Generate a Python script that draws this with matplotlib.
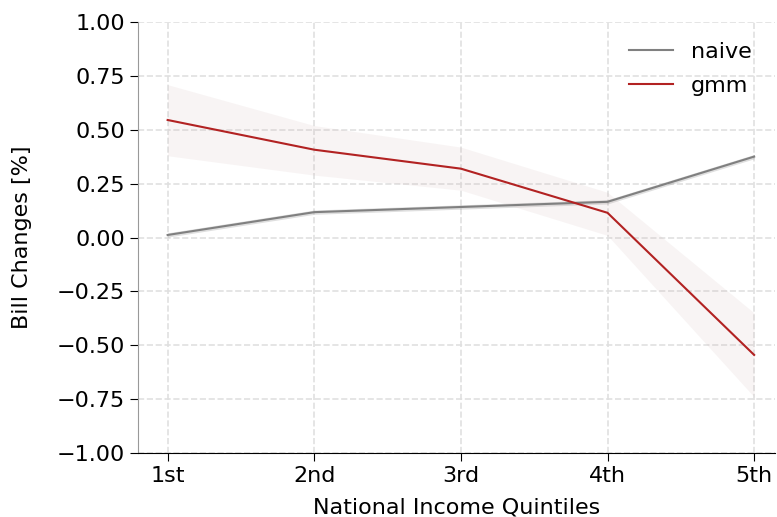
import numpy as np
import matplotlib
matplotlib.use("Agg")
import matplotlib.pyplot as plt

quintiles = ["1st", "2nd", "3rd", "4th", "5th"]

naive_mean = [0.012, 0.118, 0.142, 0.166, 0.376]
naive_lo = [0.002, 0.108, 0.132, 0.156, 0.366]
naive_hi = [0.022, 0.128, 0.152, 0.176, 0.386]

gmm_mean = [0.546, 0.408, 0.320, 0.115, -0.545]
gmm_lo = [0.38, 0.29, 0.22, 0.01, -0.74]
gmm_hi = [0.71, 0.52, 0.42, 0.21, -0.35]

plt.rcParams['font.size'] = 16

fig, ax = plt.subplots(figsize=(7.77, 5.17), dpi=100)
x = np.arange(len(quintiles))

ax.fill_between(x, naive_lo, naive_hi, color="gray", alpha=0.25, lw=0)
ax.plot(x, naive_mean, color="gray", lw=1.5, label="naive")
ax.fill_between(x, gmm_lo, gmm_hi, color="#c8a8a8", alpha=0.12, lw=0)
ax.plot(x, gmm_mean, color="#b22222", lw=1.5, label="gmm")

ax.set_xticks(x)
ax.set_xticklabels(quintiles)
ax.set_xlim(-0.2, 4.14)
ax.set_ylim(-1, 1)
yt = np.arange(-1, 1.01, 0.25)
ax.set_yticks(yt)
ax.set_yticklabels([f"{v:.2f}".replace("-", "\u2212") for v in yt])
ax.set_xlabel("National Income Quintiles", labelpad=8)
ax.set_ylabel("Bill Changes [%]", labelpad=18)

ax.grid(True, ls="--", color="#e0e0e0", lw=1.2)
ax.set_axisbelow(True)
for s in ["top", "right"]:
    ax.spines[s].set_visible(False)
ax.spines["left"].set_color("#999999")
ax.spines["bottom"].set_color("black")
ax.tick_params(length=6)

ax.legend(frameon=False, loc="upper right", bbox_to_anchor=(0.995, 1.0), labelspacing=0.6)

fig.subplots_adjust(left=0.178, right=0.997, top=0.957, bottom=0.124)
fig.savefig("out.png", dpi=100)
